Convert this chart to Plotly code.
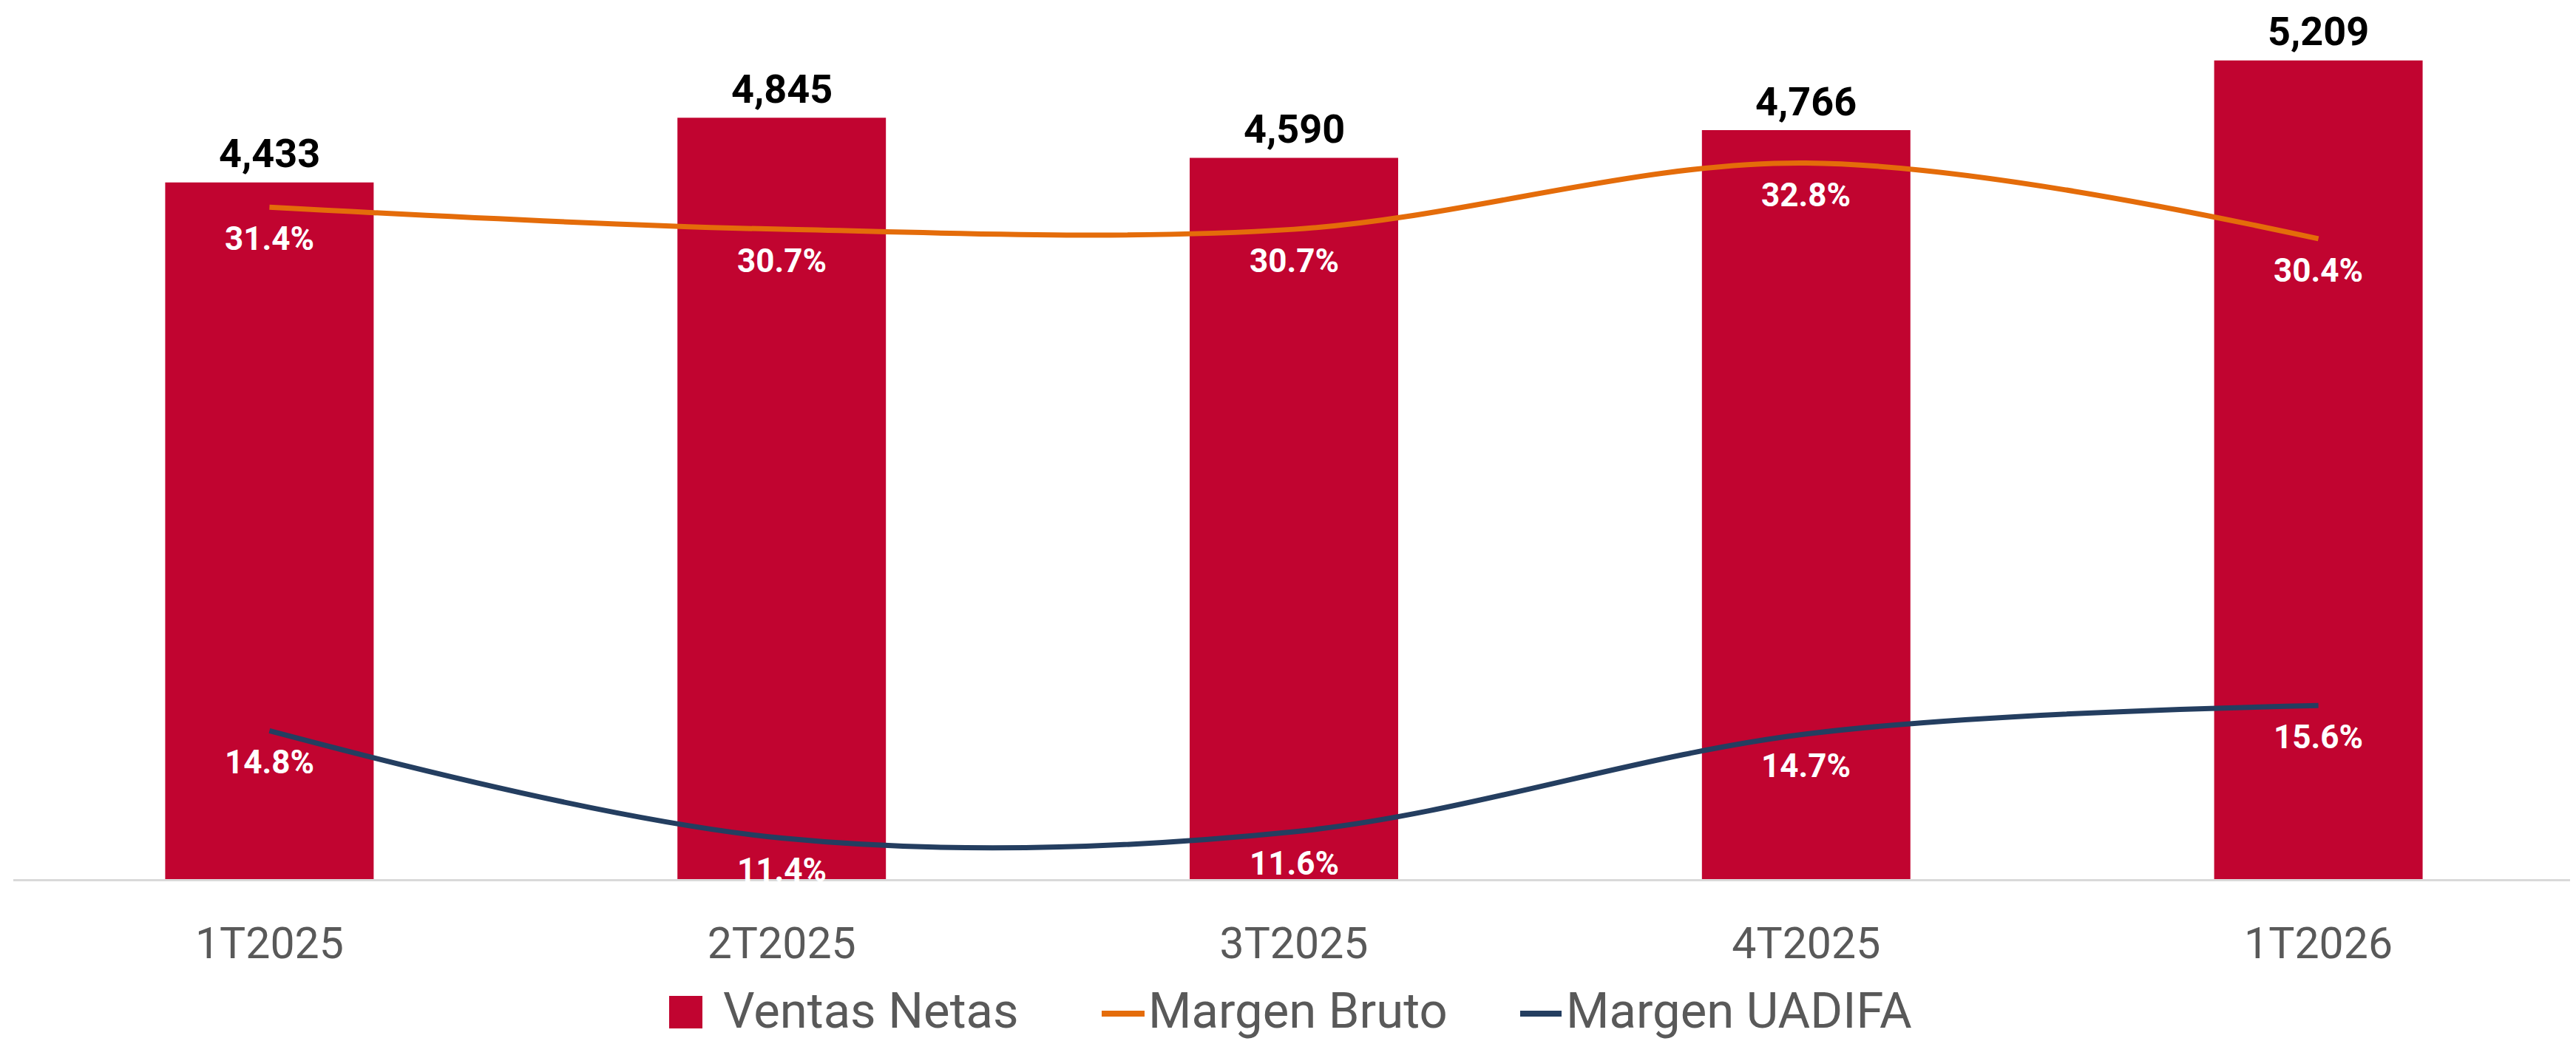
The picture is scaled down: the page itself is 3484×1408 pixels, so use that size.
import plotly.graph_objects as go

# ---------------- data ----------------
categories = ["1T2025", "2T2025", "3T2025", "4T2025", "1T2026"]
ventas_netas = [4433, 4845, 4590, 4766, 5209]
margen_bruto = [31.4, 30.7, 30.7, 32.8, 30.4]
margen_uadifa = [14.8, 11.4, 11.6, 14.7, 15.6]
legend_names = ["Ventas Netas", "Margen Bruto", "Margen UADIFA"]

# ---------------- style ----------------
RED = "#C10430"
ORANGE = "#E46C0A"
NAVY = "#243E60"
GRAY_TXT = "#595959"
FONT = "Roboto"

W, H = 3484, 1408
OFF = 8  # page body margin
# plot area in page pixels: left 18, right 3482, top 20, bottom 1189
ML = 18 - OFF
MR = W - (3482 - OFF)
MT = 20 - OFF
MB = H - (1189 - OFF)
PW, PH = W - ML - MR, H - MT - MB


def px_x(px):
    return (px - OFF - ML) / PW


def px_y(py):
    return (H - MB - (py - OFF)) / PH


fig = go.Figure()
fig.add_trace(go.Bar(
    x=categories, y=ventas_netas, name=legend_names[0],
    marker=dict(color=RED, line=dict(width=0)), showlegend=False,
))
fig.add_trace(go.Scatter(
    x=categories, y=margen_bruto, name=legend_names[1], yaxis="y2", mode="lines",
    line=dict(color=ORANGE, width=7, shape="spline", smoothing=1.0), showlegend=False,
))
fig.add_trace(go.Scatter(
    x=categories, y=margen_uadifa, name=legend_names[2], yaxis="y2", mode="lines",
    line=dict(color=NAVY, width=7, shape="spline", smoothing=1.0), showlegend=False,
))

annotations = []
for c, v in zip(categories, ventas_netas):
    annotations.append(dict(
        x=c, y=v, xref="x", yref="y", text=f"<b>{v:,}</b>", showarrow=False,
        yanchor="middle", yshift=39, borderpad=0,
        font=dict(family=FONT, size=54, color="#000000"),
    ))
for series in (margen_bruto, margen_uadifa):
    for c, v in zip(categories, series):
        annotations.append(dict(
            x=c, y=v, xref="x", yref="y2", text=f"<b>{v:.1f}%</b>", showarrow=False,
            yanchor="middle", yshift=-43, font=dict(family=FONT, size=44, color="#FFFFFF"),
        ))

# manual legend (large symbols like the original)
legend_text_x = [976, 1551, 2116]
for name, tx in zip(legend_names, legend_text_x):
    annotations.append(dict(
        x=px_x(tx), y=px_y(1367), xref="paper", yref="paper", text=name, showarrow=False,
        xanchor="left", yanchor="middle", font=dict(family=FONT, size=67, color=GRAY_TXT),
    ))
shapes = [
    dict(type="rect", xref="paper", yref="paper", x0=px_x(905), x1=px_x(950),
         y0=px_y(1391), y1=px_y(1347), fillcolor=RED, line=dict(width=0)),
    dict(type="line", xref="paper", yref="paper", x0=px_x(1490), x1=px_x(1548),
         y0=px_y(1371), y1=px_y(1371), line=dict(color=ORANGE, width=8)),
    dict(type="line", xref="paper", yref="paper", x0=px_x(2056), x1=px_x(2112),
         y0=px_y(1371), y1=px_y(1371), line=dict(color=NAVY, width=8)),
]

fig.update_layout(
    width=W, height=H,
    margin=dict(l=ML, r=MR, t=MT, b=MB, pad=0),
    paper_bgcolor="white", plot_bgcolor="white",
    bargap=0.593,
    showlegend=False,
    font=dict(family=FONT, color=GRAY_TXT),
    xaxis=dict(
        type="category", range=[-0.5, 4.5], showgrid=False, zeroline=False,
        showline=True, linecolor="#D9D9D9", linewidth=3, ticks="",
        tickfont=dict(family=FONT, size=59, color=GRAY_TXT), ticklabelstandoff=33,
    ),
    yaxis=dict(range=[0, 5500], visible=False, showgrid=False, zeroline=False),
    yaxis2=dict(range=[10.1, 37.5], overlaying="y", side="right", visible=False,
                showgrid=False, zeroline=False),
    annotations=annotations,
    shapes=shapes,
)

fig.write_html("out.html")
